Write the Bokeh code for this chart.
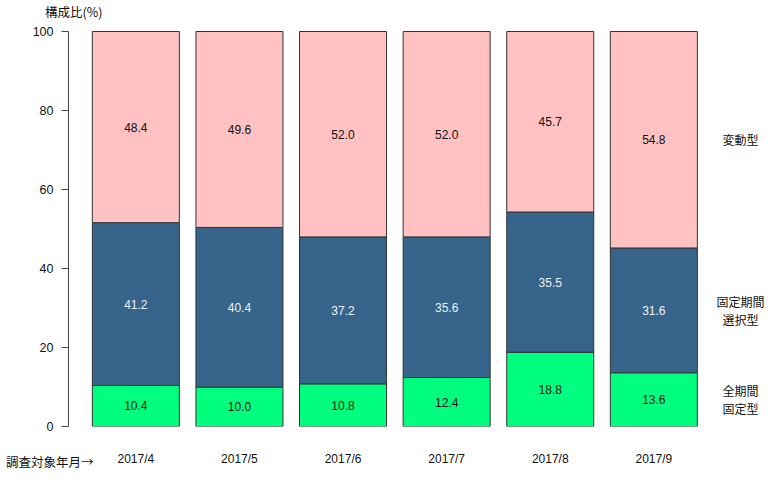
from bokeh.plotting import figure
from bokeh.models import Range1d, FixedTicker, LinearAxis, ColumnDataSource
from bokeh.core.properties import value
from bokeh.embed import file_html
from bokeh.resources import INLINE

# ---- data ----
months = ["2017/4", "2017/5", "2017/6", "2017/7", "2017/8", "2017/9"]
zenkikan = [10.4, 10.0, 10.8, 12.4, 18.8, 13.6]      # 全期間固定型
kotei_sentaku = [41.2, 40.4, 37.2, 35.6, 35.5, 31.6]  # 固定期間選択型
hendo = [48.4, 49.6, 52.0, 52.0, 45.7, 54.8]          # 変動型
series_names = ["全期間\n固定型", "固定期間\n選択型", "変動型"]
y_ticks = [0, 20, 40, 60, 80, 100]
y_title = "構成比(%)"
x_title = "調査対象年月→"

colors = ["#00FF7F", "#36648B", "#FFC1C1"]
label_colors = ["#111111", "#EEF2F8", "#111111"]

W, H = 775, 490
FL, FR, TOP100, FB = 68, 775, 31, 426
PXU = (FB - TOP100) / 100.0
x0 = -0.65
x1 = x0 + (FR - FL) / 103.6

p = figure(width=W, height=H, output_backend="svg", toolbar_location=None,
           x_range=Range1d(x0, x1), y_range=Range1d(0, 100 + TOP100 / PXU),
           min_border_left=FL, min_border_right=W - FR,
           min_border_top=0, min_border_bottom=H - FB)
try:
    p.title = None
except Exception:
    p.title.visible = False
p.extra_x_ranges = {"px": Range1d(FL, FR)}
p.extra_y_ranges = {"py": Range1d(FB, 0)}
p.outline_line_color = None
p.grid.visible = False
p.background_fill_color = "white"
p.border_fill_color = "white"

xs = list(range(len(months)))
series = [zenkikan, kotei_sentaku, hendo]
bottoms = [0.0] * len(months)
for vals, col, lc in zip(series, colors, label_colors):
    tops = [b + v for b, v in zip(bottoms, vals)]
    src = ColumnDataSource(dict(x=xs, bottom=bottoms, top=tops,
                                mid=[(b + t) / 2 for b, t in zip(bottoms, tops)],
                                lab=[f"{v:.1f}" for v in vals]))
    p.vbar(x="x", bottom="bottom", top="top", width=0.84, source=src,
           fill_color=col, line_color="#333333", line_width=1)
    p.text(x="x", y="mid", text="lab", source=src, text_align="center",
           text_baseline="middle", text_color=lc, text_font_size="12px",
           text_font=value("Liberation Sans"))
    bottoms = tops

# right-side series labels at midpoints of the last bar
last = len(months) - 1
mids = []
b = 0.0
for vals in series:
    mids.append(b + vals[last] / 2)
    b += vals[last]
p.text(x=[740] * 3, y=mids, text=series_names, x_range_name="px",
       text_align="center", text_baseline="middle", text_color="#111111",
       text_font_size="12px", text_line_height=1.1,
       text_font=value("Noto Sans CJK JP"))

# y axis
ya = p.yaxis[0]
ya.bounds = (0, 100)
ya.ticker = FixedTicker(ticks=y_ticks)
ya.major_tick_out = 7
ya.major_tick_in = 0
ya.minor_tick_line_color = None
ya.axis_line_color = "#444444"
ya.major_tick_line_color = "#444444"
ya.major_label_standoff = 8
ya.major_label_text_font = "Liberation Sans"
ya.major_label_text_font_size = "12.5px"
ya.major_label_text_color = "#111111"

# x axis
xa = p.xaxis[0]
xa.ticker = FixedTicker(ticks=xs)
xa.major_label_overrides = {i: m for i, m in enumerate(months)}
xa.axis_line_color = None
xa.major_tick_line_color = None
xa.minor_tick_line_color = None
xa.major_tick_out = 0
xa.major_label_standoff = 25
xa.major_label_text_font = "Liberation Sans"
xa.major_label_text_font_size = "12px"
xa.major_label_text_color = "#111111"

def style_text_axis(ax, size):
    ax.axis_line_color = None
    ax.major_tick_line_color = None
    ax.minor_tick_line_color = None
    ax.major_tick_out = 0
    ax.major_tick_in = 0
    ax.major_label_text_font = "Noto Sans CJK JP"
    ax.major_label_text_font_size = size
    ax.major_label_text_color = "#111111"
    return ax

# y-axis title (top left), on a pixel-row range
ty = LinearAxis(y_range_name="py", ticker=FixedTicker(ticks=[8]),
                major_label_overrides={8: y_title}, major_label_standoff=-73)
p.add_layout(style_text_axis(ty, "12.5px"), "left")

# x-axis title (bottom left), right-aligned via a tiny label angle
tx = LinearAxis(x_range_name="px", ticker=FixedTicker(ticks=[93]),
                major_label_overrides={93: x_title},
                major_label_orientation=1e-6, major_label_standoff=-7)
p.add_layout(style_text_axis(tx, "12.5px"), "below")

open("out.html", "w").write(file_html(p, INLINE))
